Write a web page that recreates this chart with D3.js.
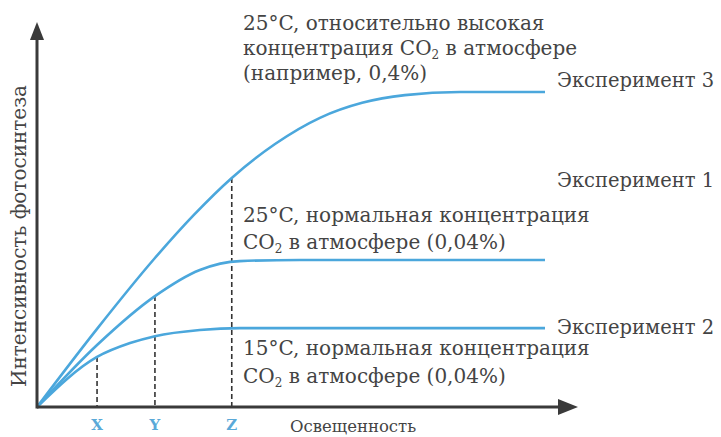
<!DOCTYPE html>
<html>
<head>
  <meta charset="utf-8">
  <script src="https://d3js.org/d3.v7.min.js"></script>
  <style>
    body { margin: 0; background: #fff; }
    text { font-family: "DejaVu Serif", "Liberation Serif", serif; fill: #444; }
  </style>
</head>
<body>
  <div id="chart"></div>
  <script>
    // освещенность (условные единицы) и интенсивность для каждого эксперимента
    const light3 = [0, 11.1, 21.8, 29.0, 36.0, 44.0, 52.3, 60.1, 68.0, 78.2, 93.9];
    const rate3  = [0, 20.3, 38.7, 49.9, 59.5, 68.3, 75.1, 79.0, 81.0, 81.8, 81.8];
    const light1 = [0, 11.1, 21.8, 30.1, 37.5, 48.6, 93.9];
    const rate1  = [0, 16.1, 28.8, 35.6, 37.9, 38.2, 38.2];
    const light2 = [0, 11.1, 17.2, 21.8, 30.1, 37.5, 93.9];
    const rate2  = [0, 13.0, 16.6, 18.4, 20.0, 20.5, 20.5];

    // отметки X, Y, Z на оси освещенности
    const markNames = ["X", "Y", "Z"];
    const markLight = [11.1, 21.8, 36.0];
    const markRate  = [13.0, 28.8, 59.5];

    const expNames = ["Эксперимент 3", "Эксперимент 1", "Эксперимент 2"];
    const note3 = ["25°C, относительно высокая", "концентрация CO|2| в атмосфере", "(например, 0,4%)"];
    const note1 = ["25°C, нормальная концентрация", "CO|2| в атмосфере (0,04%)"];
    const note2 = ["15°C, нормальная концентрация", "CO|2| в атмосфере (0,04%)"];

    const width = 721, height = 437;
    const svg = d3.select("#chart").append("svg")
      .attr("width", width).attr("height", height);

    const x = d3.scaleLinear().domain([0, 100]).range([37, 578]);
    const y = d3.scaleLinear().domain([0, 100]).range([407, 22]);

    const line = d3.line()
      .x(d => x(d[0])).y(d => y(d[1]))
      .curve(d3.curveMonotoneX);

    const series = [d3.zip(light3, rate3), d3.zip(light1, rate1), d3.zip(light2, rate2)];

    // пунктирные линии
    svg.selectAll(".drop").data(markLight).join("line")
      .attr("x1", d => x(d)).attr("x2", d => x(d))
      .attr("y1", (d, i) => y(markRate[i])).attr("y2", y(0))
      .attr("stroke", "#333").attr("stroke-width", 1.6)
      .attr("stroke-dasharray", "5,3");

    // кривые
    svg.selectAll(".curve").data(series).join("path")
      .attr("d", line)
      .attr("fill", "none")
      .attr("stroke", "#4ba7dc")
      .attr("stroke-width", 2.6);

    // оси со стрелками
    const axisColor = "#3a3a3a";
    svg.append("line").attr("x1", x(0)).attr("x2", x(100) - 16)
      .attr("y1", y(0)).attr("y2", y(0))
      .attr("stroke", axisColor).attr("stroke-width", 3);
    svg.append("line").attr("x1", x(0)).attr("x2", x(0))
      .attr("y1", y(0) + 1.5).attr("y2", y(100) + 16)
      .attr("stroke", axisColor).attr("stroke-width", 3);
    svg.append("path")
      .attr("d", `M${x(100)},${y(0)} L${x(100) - 20},${y(0) - 8} L${x(100) - 20},${y(0) + 8} Z`)
      .attr("fill", axisColor);
    svg.append("path")
      .attr("d", `M${x(0)},${y(100)} L${x(0) - 7},${y(100) + 18} L${x(0) + 7},${y(100) + 18} Z`)
      .attr("fill", axisColor);

    // подписи X, Y, Z
    svg.selectAll(".mark").data(markNames).join("text")
      .attr("x", (d, i) => x(markLight[i])).attr("y", 430)
      .attr("text-anchor", "middle")
      .style("fill", "#5aa9d8").style("font-weight", "bold").style("font-size", "15px")
      .text(d => d);

    svg.append("text").attr("x", 290).attr("y", 432)
      .style("font-size", "16.5px").text("Освещенность");

    svg.append("text")
      .attr("transform", "translate(26,236) rotate(-90)")
      .attr("text-anchor", "middle")
      .style("font-size", "20px")
      .text("Интенсивность фотосинтеза");

    // многострочные подписи, "|2|" — нижний индекс
    function note(lines, x0, y0, step) {
      lines.forEach((s, i) => {
        const t = svg.append("text").attr("x", x0).attr("y", y0 + i * step)
          .style("font-size", "20px");
        s.split("|").forEach((part, j) => {
          if (j % 2 === 1) {
            t.append("tspan").attr("dy", 4).style("font-size", "12px").text(part);
          } else {
            t.append("tspan").attr("dy", j > 0 ? -4 : 0).text(part);
          }
        });
      });
    }
    note(note3, 243, 30, 25);
    note(note1, 243, 222, 27);
    note(note2, 243, 355, 28);

    // названия экспериментов
    const expY = [87, 187, 334];
    svg.selectAll(".exp").data(expNames).join("text")
      .attr("x", 557).attr("y", (d, i) => expY[i])
      .style("font-size", "19.5px")
      .text(d => d);
  </script>
</body>
</html>
